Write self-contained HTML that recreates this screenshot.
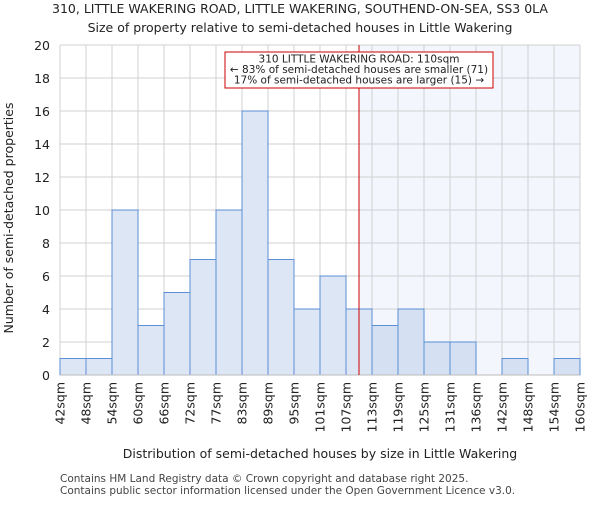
<!DOCTYPE html>
<html><head><meta charset="utf-8"><style>body{margin:0;background:#fff}svg{font-family:"DejaVu Sans","Liberation Sans",sans-serif}</style></head>
<body>
<svg id="c" width="600" height="500">
<text x="300" y="13" text-anchor="middle" font-size="12.5" fill="#222">310, LITTLE WAKERING ROAD, LITTLE WAKERING, SOUTHEND-ON-SEA, SS3 0LA</text>
<text x="300" y="32" text-anchor="middle" font-size="12.5" fill="#222">Size of property relative to semi-detached houses in Little Wakering</text>
<g id="plot"></g>
<text x="320" y="458" text-anchor="middle" font-size="12.5" fill="#222">Distribution of semi-detached houses by size in Little Wakering</text>
<text transform="translate(13,218) rotate(-90)" text-anchor="middle" font-size="12.5" fill="#222">Number of semi-detached properties</text>
<text x="60" y="482" font-size="10.5" fill="#444">Contains HM Land Registry data © Crown copyright and database right 2025.</text>
<text x="60" y="494" font-size="10.5" fill="#444">Contains public sector information licensed under the Open Government Licence v3.0.</text>
</svg>
<script>
const edges=["42sqm","48sqm","54sqm","60sqm","66sqm","72sqm","77sqm","83sqm","89sqm","95sqm","101sqm","107sqm","113sqm","119sqm","125sqm","131sqm","136sqm","142sqm","148sqm","154sqm","160sqm"];
const counts=[1,1,10,3,5,7,10,16,7,4,6,4,3,4,2,2,0,1,0,1];
const yTicks=[0,2,4,6,8,10,12,14,16,18,20];
const markerBin=11.5;
const L=60,R=580,T=45,B=375,NS="http://www.w3.org/2000/svg";
const n=counts.length,bw=(R-L)/n;
const x=i=>L+i*bw, y=v=>B-(v/20)*(B-T);
const g=document.getElementById('plot');
function mk(t,a){const e=document.createElementNS(NS,t);for(const k in a)e.setAttribute(k,a[k]);g.appendChild(e);return e;}
const mx=x(markerBin);
let sh=mk('rect',{x:mx,y:T,width:R-mx,height:B-T,fill:'#f3f6fd'});


for(let i=0;i<=n;i++){let l=mk('line',{x1:x(i),x2:x(i),y1:T,y2:B,stroke:'#d0d0d0','stroke-width':1});

}
yTicks.forEach(v=>{let l=mk('line',{x1:L,x2:R,y1:y(v),y2:y(v),stroke:'#d0d0d0','stroke-width':1});


let t=mk('text',{x:L-10,y:y(v)+5,'text-anchor':'end','font-size':12.5,fill:'#222'});t.textContent=v;

});
counts.forEach((c,i)=>{if(!c)return;let r=mk('rect',{x:x(i),y:y(c),width:bw,height:B-y(c),fill:x(i)>=mx?'#d5e0f3':'#dce6f4',stroke:'#5b8fd6','stroke-width':1});

});
edges.forEach((s,i)=>{let t=mk('text',{transform:`translate(${x(i)+4.5},382) rotate(-90)`,'text-anchor':'end','font-size':12.5,fill:'#222'});t.textContent=s;

});
let ax=mk('line',{x1:L,x2:R,y1:B,y2:B,stroke:'#bbb'});


let ml=mk('line',{x1:mx,x2:mx,y1:T,y2:B,stroke:'#cc0000','stroke-width':1});


let bx=mk('rect',{x:225,y:52,width:268,height:36,fill:'#fff',stroke:'#cc0000','stroke-width':1});


["310 LITTLE WAKERING ROAD: 110sqm","← 83% of semi-detached houses are smaller (71)","17% of semi-detached houses are larger (15) →"].forEach((s,k)=>{let t=mk('text',{x:359,y:62.5+k*10.5,'text-anchor':'middle','font-size':10.5,fill:'#222'});t.textContent=s;

});
</script>
</body></html>
